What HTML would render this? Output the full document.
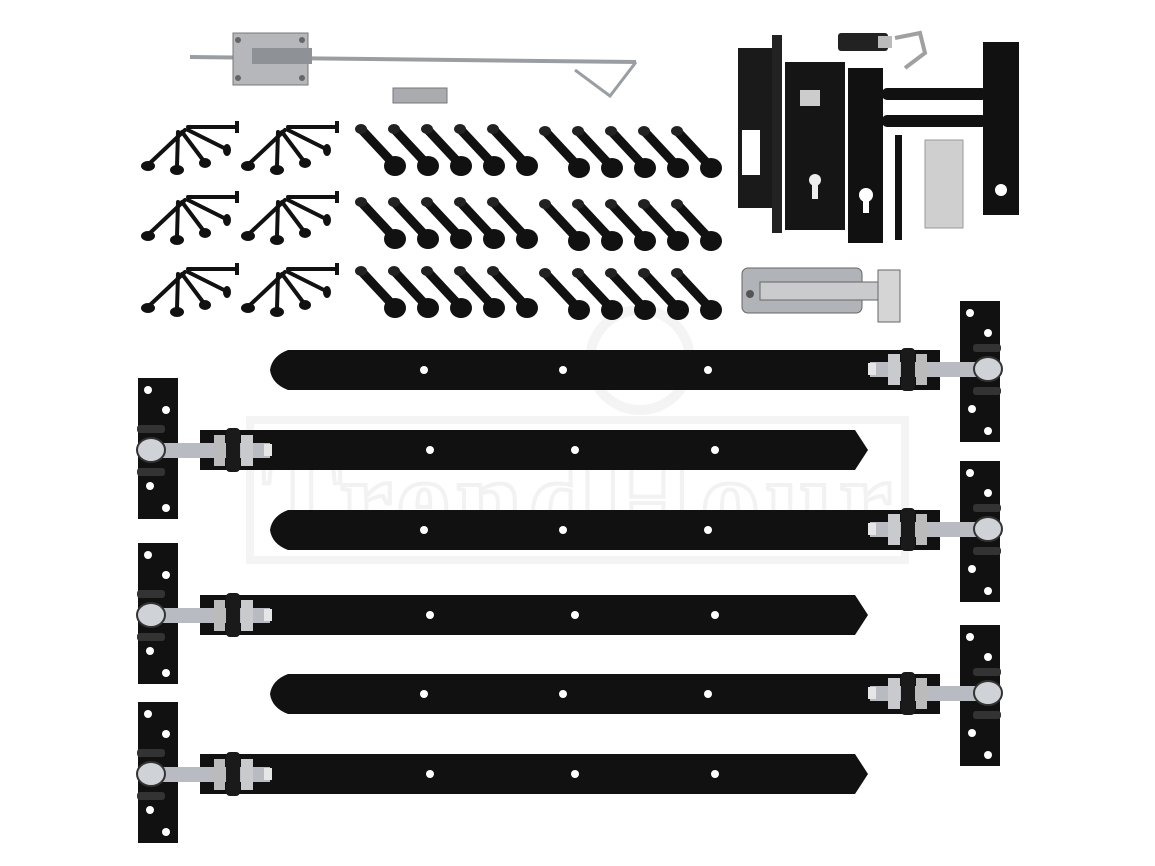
<!DOCTYPE html>
<html><head><meta charset="utf-8"><style>html,body{margin:0;padding:0;background:#fff}svg{display:block}</style></head>
<body>
<svg width="1155" height="866" viewBox="0 0 1155 866" xmlns="http://www.w3.org/2000/svg">
<defs>
<g id="screws">
 <g stroke="#111" stroke-width="4" stroke-linecap="round">
  <line x1="185" y1="130" x2="150" y2="163"/>
  <line x1="178" y1="132" x2="177" y2="166"/>
  <line x1="182" y1="132" x2="203" y2="160"/>
  <line x1="188" y1="130" x2="224" y2="148"/>
  <line x1="188" y1="127" x2="236" y2="127"/>
 </g>
 <g fill="#111">
  <ellipse cx="148" cy="166" rx="7" ry="5"/>
  <ellipse cx="177" cy="170" rx="7" ry="5"/>
  <ellipse cx="205" cy="163" rx="6" ry="5"/>
  <ellipse cx="227" cy="150" rx="4" ry="6"/>
  <rect x="235" y="121" width="4" height="12"/>
 </g>
</g>
<g id="cb">
 <line x1="0" y1="0" x2="28" y2="30" stroke="#111" stroke-width="9" stroke-linecap="round"/>
 <ellipse cx="-1" cy="-1" rx="6" ry="5" fill="#222"/>
 <ellipse cx="33" cy="36" rx="11" ry="10" fill="#111"/>
</g>
<g id="cbrow">
 <use href="#cb" x="0"/><use href="#cb" x="33"/><use href="#cb" x="66"/><use href="#cb" x="99"/><use href="#cb" x="132"/>
</g>
<g id="plate">
 <rect x="0" y="0" width="40" height="141" fill="#111"/>
 <circle cx="10" cy="12" r="4" fill="#fff"/><circle cx="28" cy="32" r="4" fill="#fff"/>
 <circle cx="12" cy="108" r="4" fill="#fff"/><circle cx="28" cy="130" r="4" fill="#fff"/>
</g>
<g id="stL">
 <path d="M270 20 Q272 6 288 0 L940 0 L940 40 L288 40 Q272 34 270 20Z" fill="#111"/>
 <circle cx="424" cy="20" r="4" fill="#fff"/>
 <circle cx="563" cy="20" r="4" fill="#fff"/><circle cx="708" cy="20" r="4" fill="#fff"/>
 <use href="#plate" x="960" y="-49"/>
 <rect x="870" y="12" width="122" height="15" fill="#b8bcc2"/>
 <rect x="868" y="13" width="8" height="12" fill="#e6e6e6"/>
 <rect x="888" y="4" width="12" height="31" fill="#c9cacd"/>
 <rect x="901" y="-2" width="14" height="43" rx="4" fill="#1a1a1a"/>
 <rect x="916" y="4" width="11" height="31" fill="#bbb"/>
 <ellipse cx="988" cy="19" rx="14" ry="12" fill="#cfd2d6" stroke="#333" stroke-width="2"/>
 <rect x="973" y="-6" width="28" height="8" rx="3" fill="#333"/>
 <rect x="973" y="37" width="28" height="8" rx="3" fill="#333"/>
</g>
<g id="stR">
 <path d="M200 0 L855 0 L868 20 L855 40 L200 40Z" fill="#111"/>
 <circle cx="430" cy="20" r="4" fill="#fff"/><circle cx="575" cy="20" r="4" fill="#fff"/>
 <circle cx="715" cy="20" r="4" fill="#fff"/>
 <use href="#plate" x="138" y="-52"/>
 <rect x="150" y="13" width="120" height="15" fill="#b8bcc2"/>
 <rect x="264" y="14" width="8" height="12" fill="#e6e6e6"/>
 <rect x="214" y="5" width="11" height="31" fill="#bbb"/>
 <rect x="226" y="-2" width="14" height="44" rx="4" fill="#1a1a1a"/>
 <rect x="241" y="5" width="12" height="31" fill="#c9cacd"/>
 <ellipse cx="151" cy="20" rx="14" ry="12" fill="#cfd2d6" stroke="#333" stroke-width="2"/>
 <rect x="137" y="-5" width="28" height="8" rx="3" fill="#333"/>
 <rect x="137" y="38" width="28" height="8" rx="3" fill="#333"/>
</g>
</defs>

<rect x="250" y="420" width="655" height="140" fill="none" stroke="#f4f4f4" stroke-width="8"/>
<text x="262" y="540" font-family="Liberation Serif, serif" font-size="120" font-weight="bold" fill="none" stroke="#f2f2f2" stroke-width="4" textLength="630">TrendHour</text>
<circle cx="640" cy="360" r="50" fill="none" stroke="#f4f4f4" stroke-width="10"/>

<line x1="190" y1="57" x2="636" y2="62" stroke="#9a9ea3" stroke-width="4"/>
<polyline points="636,62 610,96 575,70" fill="none" stroke="#9a9ea3" stroke-width="3"/>
<rect x="233" y="33" width="75" height="52" fill="#b5b7ba" stroke="#777"/>
<rect x="252" y="48" width="60" height="16" fill="#8e9196"/>
<circle cx="238" cy="40" r="3" fill="#666"/><circle cx="238" cy="78" r="3" fill="#666"/>
<circle cx="302" cy="40" r="3" fill="#666"/><circle cx="302" cy="78" r="3" fill="#666"/>
<rect x="393" y="88" width="54" height="15" fill="#a9abaf" stroke="#777"/>

<use href="#screws"/><use href="#screws" x="100"/>
<use href="#screws" y="70"/><use href="#screws" x="100" y="70"/>
<use href="#screws" y="142"/><use href="#screws" x="100" y="142"/>

<use href="#cbrow" x="362" y="130"/><use href="#cbrow" x="546" y="132"/>
<use href="#cbrow" x="362" y="203"/><use href="#cbrow" x="546" y="205"/>
<use href="#cbrow" x="362" y="272"/><use href="#cbrow" x="546" y="274"/>

<rect x="738" y="48" width="40" height="160" fill="#1a1a1a"/>
<rect x="742" y="130" width="18" height="45" fill="#fff"/>
<rect x="772" y="35" width="10" height="198" fill="#222"/>
<rect x="785" y="62" width="60" height="168" fill="#151515"/>
<rect x="800" y="90" width="20" height="16" fill="#ccc"/>
<circle cx="815" cy="180" r="6" fill="#eee"/><rect x="812" y="184" width="6" height="15" fill="#eee"/>
<rect x="838" y="33" width="50" height="18" rx="3" fill="#222"/><rect x="878" y="36" width="14" height="12" fill="#bbb"/>
<path d="M895 38 l25 -5 l5 20 l-20 15" fill="none" stroke="#a0a0a0" stroke-width="4"/>
<rect x="848" y="68" width="35" height="175" fill="#111"/>
<circle cx="866" cy="195" r="7" fill="#fff"/><rect x="863" y="198" width="6" height="15" fill="#fff"/>
<rect x="882" y="88" width="105" height="12" rx="5" fill="#111"/>
<rect x="882" y="115" width="105" height="12" rx="5" fill="#111"/>
<rect x="983" y="42" width="36" height="173" fill="#111"/>
<circle cx="1001" cy="190" r="6" fill="#fff"/>
<rect x="895" y="135" width="7" height="105" fill="#111"/>
<rect x="925" y="140" width="38" height="88" fill="#cfcfcf" stroke="#999"/>

<rect x="742" y="268" width="120" height="45" rx="6" fill="#b0b3b7" stroke="#666"/>
<rect x="760" y="282" width="140" height="18" fill="#c9cbcd" stroke="#666"/>
<rect x="878" y="270" width="22" height="52" fill="#d5d5d5" stroke="#666"/>
<circle cx="750" cy="294" r="4" fill="#555"/>

<use href="#stL" y="350"/>
<use href="#stR" y="430"/>
<use href="#stL" y="510"/>
<use href="#stR" y="595"/>
<use href="#stL" y="674"/>
<use href="#stR" y="754"/>
</svg>
</body></html>
